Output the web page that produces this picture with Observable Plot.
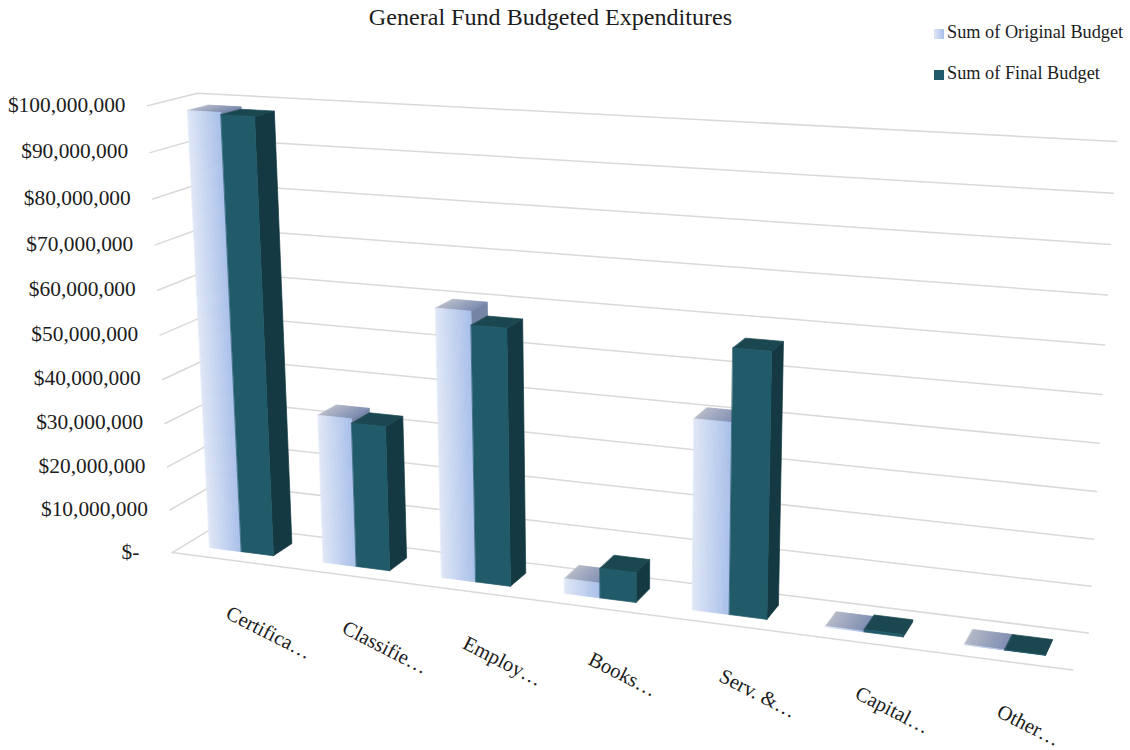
<!DOCTYPE html>
<html><head><meta charset="utf-8">
<script src="https://cdn.jsdelivr.net/npm/d3@7"></script>
<script src="https://cdn.jsdelivr.net/npm/@observablehq/plot@0.6"></script>
<style>
body{margin:0;background:#fff;font-family:"Liberation Serif",serif;color:#1c1c1c}
#wrap{position:relative;width:1130px;height:750px;overflow:hidden}
#title{position:absolute;left:0;top:3px;width:1101px;text-align:center;font-size:24.1px;line-height:28px}
.leg{position:absolute;left:934px;font-size:18.3px;line-height:20px;white-space:nowrap}
.leg i{display:inline-block;width:10px;height:10px;margin-right:3px;vertical-align:-0.5px}
svg{display:block}
</style></head><body>
<div id="wrap">
<div id="title">General Fund Budgeted Expenditures</div>
<div class="leg" style="top:22px"><i style="background:linear-gradient(90deg,#dfe6f5,#a9c0e9)"></i>Sum of Original Budget</div>
<div class="leg" style="top:63px"><i style="background:#215a68"></i>Sum of Final Budget</div>
<div id="chart"></div>
</div>
<script>
const categories = ["Certifica…","Classifie…","Employ…","Books…","Serv. &…","Capital…","Other…"];
const originalBudget = [98.5e6,33.7e6,59.8e6,3.3e6,41.3e6,0.15e6,0.05e6];
const finalBudget = [98e6,32.7e6,56.8e6,6.6e6,56.8e6,0.5e6,0.05e6];
const tickValues = [0,10e6,20e6,30e6,40e6,50e6,60e6,70e6,80e6,90e6,100e6];
const tickLabels = ["$-","$10,000,000","$20,000,000","$30,000,000","$40,000,000","$50,000,000","$60,000,000","$70,000,000","$80,000,000","$90,000,000","$100,000,000"];
const seriesStyles = [
  {front:["#e0e7f6","#a8bfe9"],side:["#7685a6","#7685a6"],top:["#b4b8c7","#7d8cb0"]},
  {front:["#215a68","#215a68"],side:["#143943","#143943"],top:["#1b4751","#1b4751"]}
];
const maxValue = 100e6;

// Perspective of the chart box: unit cube (along, up, deep) fitted to its visible corners.
const cubeFit = [
  [0,0,0,172,552],[1,0,0,1072,670],[0,0,1,218,524],[1,0,1,1088,632],
  [0,1,1,197,93],[1,1,1,1116,141],[0,1,0,147,105]
];
function solve(A,b){
  const n=b.length,M=A.map((r,i)=>[...r,b[i]]);
  for(let c=0;c<n;c++){
    let p=c;for(let r=c+1;r<n;r++)if(Math.abs(M[r][c])>Math.abs(M[p][c]))p=r;
    [M[c],M[p]]=[M[p],M[c]];
    for(let r=0;r<n;r++){if(r===c)continue;const f=M[r][c]/M[c][c];for(let k=c;k<=n;k++)M[r][k]-=f*M[c][k];}
  }
  return M.map((r,i)=>r[n]/r[i]);
}
const rowsA=[],rowsB=[];
for(const [X,Y,Z,x,y] of cubeFit){
  rowsA.push([X,Y,Z,1,0,0,0,0,-x*X,-x*Y,-x*Z]);rowsB.push(x);
  rowsA.push([0,0,0,0,X,Y,Z,1,-y*X,-y*Y,-y*Z]);rowsB.push(y);
}
const ATA=d3.range(11).map(i=>d3.range(11).map(j=>d3.sum(rowsA,r=>r[i]*r[j])));
const ATb=d3.range(11).map(i=>d3.sum(rowsA,(r,k)=>r[i]*rowsB[k]));
const m=solve(ATA,ATb);
function project(a,u,d){
  const w=m[8]*a+m[9]*u+m[10]*d+1;
  return [(m[0]*a+m[1]*u+m[2]*d+m[3])/w,(m[4]*a+m[5]*u+m[6]*d+m[7])/w];
}
const up=v=>v/maxValue;

// geometry of the bars inside each category slot
const slotGap=0.218, barWidth=0.282, depthFront=0.28, depthBack=0.70, strips=16;
const faces=[];let fid=0;
function face(corners,fill){
  const id=fid++;
  for(const c of corners){const [x,y]=project(...c);faces.push({id,x,y,fill});}
}
function shaded(makeCorners,[c0,c1]){
  if(c0===c1){face(makeCorners(0,1),c0);return;}
  const col=d3.interpolateRgb(c0,c1);
  for(let s=0;s<strips;s++)face(makeCorners(s/strips,(s+1)/strips),col((s+.5)/strips));
}
categories.forEach((c,i)=>{
  [originalBudget[i],finalBudget[i]].forEach((val,sIdx)=>{
    const st=seriesStyles[sIdx];
    const a0=(i+slotGap+sIdx*barWidth)/categories.length, a1=(i+slotGap+(sIdx+1)*barWidth)/categories.length;
    const h=up(val);
    const along=t=>a0+(a1-a0)*t;
    face([[a1,0,depthFront],[a1,0,depthBack],[a1,h,depthBack],[a1,h,depthFront]],st.side[0]);
    shaded((t0,t1)=>[[along(t0),h,depthFront],[along(t1),h,depthFront],[along(t1),h,depthBack],[along(t0),h,depthBack]],st.top);
    shaded((t0,t1)=>[[along(t0),0,depthFront],[along(t1),0,depthFront],[along(t1),h,depthFront],[along(t0),h,depthFront]],st.front);
  });
});

// wall grid lines and floor outline
const grid=[];
tickValues.forEach(v=>{
  [[0,up(v),0],[0,up(v),1],[1,up(v),1]].forEach(c=>{const [x,y]=project(...c);grid.push({k:"g"+v,x,y});});
});
[[0,0,0],[1,0,0]].forEach(c=>{const [x,y]=project(...c);grid.push({k:"front",x,y});});

const yLabels=tickValues.map((v,i)=>{const [x,y]=project(0,up(v),0);return {x:x-(i===0?33:22),y:y+(i===0?0:-1),t:tickLabels[i]};});
const catLabels=categories.map((c,i)=>{
  const [x,y]=project((i+slotGap+barWidth)/categories.length,0,depthFront);
  return {x:x-14+i*1.3,y:y+60,t:c};
});

const chart=Plot.plot({
  width:1130,height:750,margin:0,
  x:{type:"linear",domain:[0,1130],range:[0,1130],axis:null},
  y:{type:"linear",domain:[0,750],range:[0,750],axis:null},
  color:{type:"identity"},
  style:{background:"transparent",fontFamily:"Liberation Serif"},
  marks:[
    Plot.line(grid,{x:"x",y:"y",z:"k",stroke:"#d9d9d9",strokeWidth:1.5}),
    Plot.line(faces,{x:"x",y:"y",z:"id",fill:"fill",stroke:"fill",strokeWidth:0.7,curve:"linear-closed"}),
    Plot.text(yLabels,{x:"x",y:"y",text:"t",textAnchor:"end",fontSize:21.4,fill:"#1c1c1c"}),
    Plot.text(catLabels,{x:"x",y:"y",text:"t",textAnchor:"start",rotate:27,fontSize:20.6,fill:"#1c1c1c"})
  ]
});
document.getElementById("chart").appendChild(chart);
</script>
</body></html>
